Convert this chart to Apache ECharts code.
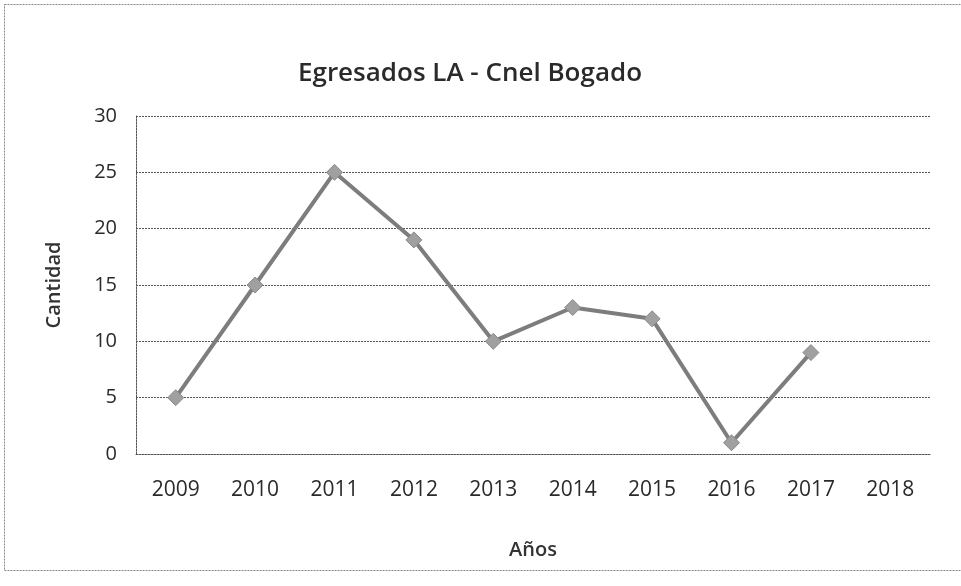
<!DOCTYPE html>
<html>
<head>
<meta charset="utf-8">
<script src="https://cdn.jsdelivr.net/npm/echarts@6/dist/echarts.min.js"></script>
<style>
  html, body { margin: 0; padding: 0; background: #fff; }
  #chart { width: 961px; height: 586px; }
</style>
</head>
<body>
<div id="chart"></div>
<script>
// datos
const years = ['2009', '2010', '2011', '2012', '2013', '2014', '2015', '2016', '2017', '2018']
const egresados = [5, 15, 25, 19, 10, 13, 12, 1, 9, null]
const yTicks = { min: 0, max: 30, interval: 5 }

const font = '"Open Sans", "Liberation Sans", sans-serif'
const gridDots = { color: '#555', width: 1, type: [2, 1] }

const chart = echarts.init(document.getElementById('chart'))
chart.setOption({
  backgroundColor: '#fff',
  animation: false,
  title: {
    text: 'Egresados LA - Cnel Bogado',
    left: 465,
    textAlign: 'center',
    top: 56,
    textStyle: { fontFamily: font, fontSize: 26, fontWeight: 600, color: '#2a2a2a' }
  },
  graphic: [{
    type: 'rect',
    shape: { x: 4.5, y: 4.5, width: 960, height: 566 },
    style: { fill: 'none', stroke: '#888', lineWidth: 1, lineDash: [2, 1] },
    silent: true
  }],
  grid: { left: 136, right: 31, top: 116, bottom: 132 },
  xAxis: {
    type: 'category',
    data: years,
    boundaryGap: true,
    name: 'Años',
    nameLocation: 'middle',
    nameGap: 86,
    nameTextStyle: { fontFamily: font, fontSize: 20, fontWeight: 600, color: '#333' },
    axisLine: { show: true, lineStyle: gridDots },
    axisTick: { show: false },
    axisLabel: { fontFamily: font, fontSize: 21, color: '#2a2a2a', margin: 26 }
  },
  yAxis: {
    type: 'value',
    min: yTicks.min,
    max: yTicks.max,
    interval: yTicks.interval,
    name: 'Cantidad',
    nameLocation: 'middle',
    nameRotate: 90,
    nameGap: 72,
    nameTextStyle: { fontFamily: font, fontSize: 20, fontWeight: 600, color: '#333' },
    axisLine: { show: true, lineStyle: gridDots },
    axisTick: { show: false },
    axisLabel: { fontFamily: font, fontSize: 20, color: '#2a2a2a', margin: 19 },
    splitLine: { show: true, lineStyle: gridDots }
  },
  series: [{
    name: 'Egresados',
    type: 'line',
    data: egresados,
    symbol: 'diamond',
    symbolSize: 16,
    lineStyle: { color: '#7d7d7d', width: 4 },
    itemStyle: { color: '#a0a0a0', borderColor: '#8a8a8a', borderWidth: 1 }
  }]
})
</script>
</body>
</html>
